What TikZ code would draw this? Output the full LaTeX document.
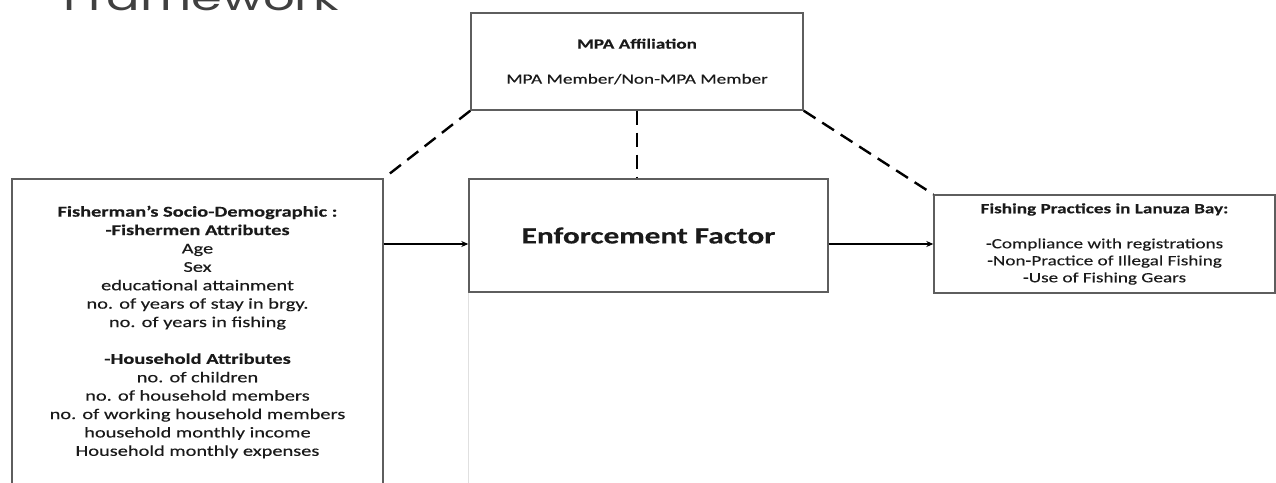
\documentclass[tikz,border=0pt]{standalone}
\usepackage{fontspec}
\setmainfont{Carlito}[FakeStretch=1.36, UprightFeatures={FakeBold=0.25}, BoldFeatures={FakeBold=0.3}]
\newfontfamily\titlefont{Poppins}[FakeStretch=1.38]
\usetikzlibrary{arrows.meta}
\definecolor{boxline}{HTML}{5E5E5E}
\definecolor{txt}{HTML}{1A1A1A}
\tikzset{
  framebox/.style={draw=boxline, line width=1.4pt, rectangle, inner sep=0pt, align=center, text=txt},
  dashlink/.style={line width=2.4pt, dash pattern=on 14pt off 8pt, black},
  flowarrow/.style={line width=1.8pt, black, -{Stealth[length=7pt,width=6pt]}},
}
\begin{document}
\begin{tikzpicture}[x=1pt,y=-1pt]
\useasboundingbox (0,0) rectangle (1276,482);
\clip (0,0) rectangle (1276,482);
\fill[white] (0,0) rectangle (1276,482);
\node[anchor=base west, font=\titlefont\fontsize{36}{40}\selectfont, text=black!75, inner sep=0pt] (title) at (63,10) {Framework};
\node[framebox, minimum width=332pt, minimum height=97pt, font=\fontsize{14.1}{18}\selectfont] (mpa) at (637,61.5)
  {\textbf{MPA Affiliation}\\[17pt]MPA Member/Non-MPA Member};
\node[framebox, minimum width=371pt, minimum height=306pt, font=\fontsize{15}{18.4}\selectfont] (left) at (197.5,332)
  {\textbf{Fisherman’s Socio-Demographic :}\\
   \textbf{-Fishermen Attributes}\\
   Age\\
   Sex\\
   educational attainment\\
   no. of years of stay in brgy.\\
   no. of years in fishing\\[18.4pt]
   \textbf{-Household Attributes}\\
   no. of children\\
   no. of household members\\
   no. of working household members\\
   household monthly income\\
   Household monthly expenses};
\node[framebox, minimum width=359pt, minimum height=113pt, font=\bfseries\fontsize{23}{27}\selectfont] (enf) at (648.5,235.5)
  {Enforcement Factor};
\node[framebox, minimum width=341pt, minimum height=98pt, font=\fontsize{14.1}{17}\selectfont] (fish) at (1104.5,244)
  {\textbf{Fishing Practices in Lanuza Bay:}\\[18pt]
   -Compliance with registrations\\
   -Non-Practice of Illegal Fishing\\
   -Use of Fishing Gears};
\coordinate (fe) at (469,492);
\draw[black!12, line width=1pt] (enf.south west) -- (enf.south west |- fe);
\draw[dashlink] (mpa.south west) -- (left.north east);
\draw[dashlink] (mpa.south) -- (mpa.south |- enf.north);
\draw[dashlink] (mpa.south east) -- (fish.north west);
\draw[flowarrow] (left.east |- fish.west) -- (enf.west |- fish.west);
\draw[flowarrow] (enf.east |- fish.west) -- (fish.west);
\end{tikzpicture}
\end{document}
